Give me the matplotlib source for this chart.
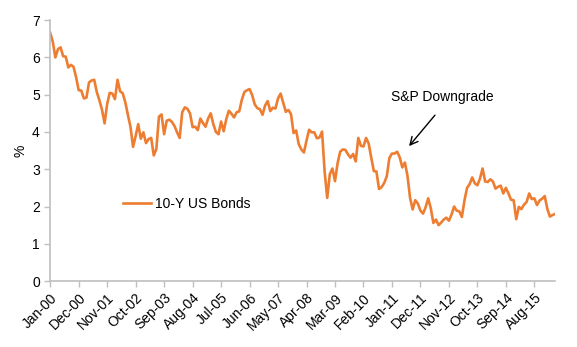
import numpy as np
import pandas as pd
import matplotlib
matplotlib.use("Agg")
import matplotlib.pyplot as plt

plt.rcParams['font.family'] = ['Liberation Sans', 'DejaVu Sans']

# month-end 10-year treasury yields, Jan 2000 - Apr 2016
yields_2000_2003 = [
    6.66, 6.42, 6.00, 6.22, 6.27, 6.03, 6.02, 5.73, 5.80, 5.75, 5.47, 5.12,
    5.11, 4.90, 4.92, 5.33, 5.38, 5.40, 5.07, 4.85, 4.60, 4.23, 4.75, 5.05,
    5.03, 4.88, 5.40, 5.09, 5.04, 4.80, 4.46, 4.14, 3.60, 3.89, 4.21, 3.82,
    3.99, 3.70, 3.81, 3.84, 3.37, 3.54, 4.41, 4.47, 3.94, 4.30, 4.33, 4.27,
]
yields_2004_2007 = [
    4.16, 3.99, 3.84, 4.53, 4.66, 4.62, 4.50, 4.13, 4.14, 4.05, 4.36, 4.24,
    4.14, 4.36, 4.50, 4.21, 4.00, 3.94, 4.28, 4.02, 4.34, 4.57, 4.49, 4.39,
    4.53, 4.55, 4.86, 5.07, 5.12, 5.15, 4.99, 4.74, 4.64, 4.61, 4.46, 4.71,
    4.83, 4.56, 4.65, 4.63, 4.90, 5.03, 4.78, 4.54, 4.59, 4.48, 3.97, 4.04,
]
yields_2008_2011 = [
    3.67, 3.53, 3.45, 3.77, 4.06, 3.99, 3.99, 3.83, 3.85, 4.01, 2.93, 2.23,
    2.87, 3.02, 2.68, 3.16, 3.47, 3.53, 3.52, 3.40, 3.31, 3.41, 3.21, 3.84,
    3.63, 3.61, 3.84, 3.69, 3.31, 2.95, 2.94, 2.47, 2.52, 2.63, 2.81, 3.30,
    3.42, 3.42, 3.47, 3.32, 3.05, 3.18, 2.82, 2.23, 1.92, 2.17, 2.08, 1.89,
]
yields_2012_2016 = [
    1.81, 1.98, 2.22, 1.95, 1.56, 1.65, 1.50, 1.57, 1.65, 1.70, 1.62, 1.78,
    2.00, 1.89, 1.87, 1.72, 2.16, 2.50, 2.60, 2.78, 2.62, 2.57, 2.75, 3.02,
    2.67, 2.66, 2.73, 2.67, 2.48, 2.53, 2.56, 2.35, 2.50, 2.35, 2.18, 2.17,
    1.66, 1.99, 1.93, 2.05, 2.12, 2.35, 2.20, 2.22, 2.04, 2.16, 2.21, 2.28,
    1.94, 1.73, 1.77, 1.80,
]
yields = yields_2000_2003 + yields_2004_2007 + yields_2008_2011 + yields_2012_2016

months = pd.date_range("2000-01-01", periods=len(yields), freq="MS")
x = np.arange(len(yields))

tick_pos = x[::11]
tick_labels = [d.strftime("%b-%y") for d in months[::11]]

fig = plt.figure(figsize=(5.77, 3.47), dpi=100)
ax = fig.add_axes([0.087, 0.19, 0.875, 0.752])

ax.plot(x, yields, color="#ED7D31", lw=1.9, label="10-Y US Bonds")

ax.set_xlim(0, len(yields) - 1)
ax.set_ylim(0, 7)
ax.set_yticks(range(0, 8))
ax.set_xticks(tick_pos)
ax.set_xticklabels(tick_labels, rotation=45, ha="right", rotation_mode="anchor")
ax.tick_params(axis="both", labelsize=10, colors="#BFBFBF", labelcolor="black",
               length=4, width=1)
ax.tick_params(axis="x", pad=3)

for side in ("top", "right"):
    ax.spines[side].set_visible(False)
for side in ("left", "bottom"):
    ax.spines[side].set_color("#BFBFBF")
    ax.spines[side].set_linewidth(1.2)

ax.set_ylabel("%", fontsize=10, labelpad=3)

ax.legend(loc="upper left", bbox_to_anchor=(0.12, 0.37), frameon=False,
          fontsize=10, handlelength=2.0, handletextpad=0.3)

# S&P downgrade of US debt, Aug 2011
ax.text(151.5, 4.93, "S&P Downgrade", ha="center", va="center", fontsize=10)
ax.annotate("", xy=(138.6, 3.62), xytext=(148.6, 4.45),
            arrowprops=dict(arrowstyle="->", color="black", lw=1,
                            shrinkA=0, shrinkB=0, mutation_scale=14))

fig.savefig("out.png", dpi=100)
